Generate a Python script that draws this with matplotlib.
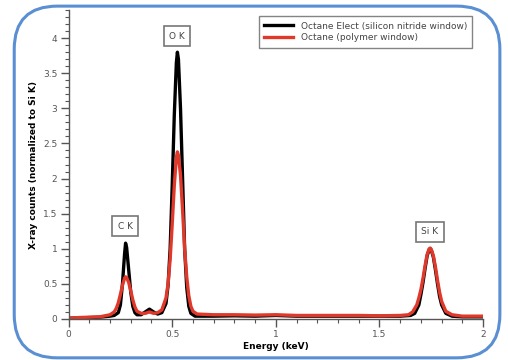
import matplotlib
matplotlib.use('Agg')
import matplotlib.pyplot as plt
from matplotlib.patches import FancyBboxPatch
from matplotlib.ticker import MultipleLocator, FuncFormatter

# spectra (energy in keV, counts normalized to Si K)
energy_black = [0.00, 0.05, 0.10, 0.15, 0.20, 0.22, 0.24, 0.25, 0.26, 0.27,
                0.275, 0.28, 0.29, 0.30, 0.31, 0.32, 0.33, 0.35, 0.37, 0.39,
                0.41, 0.43, 0.45, 0.47, 0.48, 0.49, 0.50, 0.51, 0.52, 0.525,
                0.53, 0.54, 0.55, 0.56, 0.57, 0.58, 0.59, 0.61, 0.70, 0.80,
                0.90, 1.00, 1.10, 1.20, 1.30, 1.40, 1.50, 1.60, 1.65, 1.67,
                1.69, 1.70, 1.71, 1.72, 1.73, 1.74, 1.745, 1.75, 1.76, 1.77,
                1.78, 1.79, 1.80, 1.82, 1.85, 1.90, 2.00]
counts_black = [0.01, 0.015, 0.02, 0.025, 0.04, 0.05, 0.09, 0.2, 0.5, 0.92,
                1.08, 1.02, 0.7, 0.38, 0.18, 0.09, 0.06, 0.06, 0.1, 0.14,
                0.1, 0.07, 0.09, 0.22, 0.48, 1.0, 1.9, 2.9, 3.65, 3.8,
                3.7, 3.0, 2.0, 1.0, 0.45, 0.18, 0.08, 0.04, 0.04, 0.045,
                0.04, 0.05, 0.04, 0.04, 0.04, 0.04, 0.04, 0.04, 0.05, 0.08,
                0.2, 0.35, 0.52, 0.72, 0.9, 0.99, 1.0, 0.98, 0.88, 0.7,
                0.5, 0.32, 0.2, 0.08, 0.04, 0.03, 0.03]

energy_red = [0.00, 0.05, 0.10, 0.15, 0.20, 0.22, 0.23, 0.24, 0.25, 0.26,
              0.27, 0.275, 0.28, 0.29, 0.30, 0.31, 0.32, 0.33, 0.35, 0.37,
              0.39, 0.41, 0.43, 0.45, 0.47, 0.48, 0.49, 0.50, 0.51, 0.52,
              0.525, 0.53, 0.54, 0.55, 0.56, 0.57, 0.58, 0.59, 0.60, 0.62,
              0.70, 0.80, 0.90, 1.00, 1.10, 1.20, 1.30, 1.40, 1.50, 1.60,
              1.64, 1.66, 1.68, 1.69, 1.70, 1.71, 1.72, 1.73, 1.74, 1.745,
              1.75, 1.76, 1.77, 1.78, 1.79, 1.80, 1.82, 1.85, 1.90, 2.00]
counts_red = [0.01, 0.02, 0.025, 0.03, 0.06, 0.1, 0.15, 0.23, 0.35, 0.48,
              0.58, 0.6, 0.59, 0.52, 0.4, 0.27, 0.17, 0.11, 0.08, 0.08,
              0.1, 0.08, 0.09, 0.13, 0.3, 0.5, 0.85, 1.35, 1.9, 2.3,
              2.38, 2.33, 2.05, 1.55, 1.0, 0.6, 0.33, 0.18, 0.11, 0.07,
              0.06, 0.06, 0.055, 0.06, 0.05, 0.05, 0.05, 0.05, 0.045, 0.05,
              0.06, 0.1, 0.2, 0.3, 0.42, 0.58, 0.76, 0.92, 1.0, 1.01,
              0.99, 0.9, 0.74, 0.55, 0.38, 0.25, 0.11, 0.06, 0.04, 0.04]

series_labels = ['Octane Elect (silicon nitride window)', 'Octane (polymer window)']

peak_names = ['C K', 'O K', 'Si K']
peak_pos = [(0.274, 1.32), (0.523, 4.03), (1.744, 1.24)]

fig = plt.figure(figsize=(5.08, 3.6), dpi=100)
ax = fig.add_axes([0.135, 0.114, 0.816, 0.858])

ax.plot(energy_black, counts_black, color='black', lw=2.4, label=series_labels[0])
ax.plot(energy_red, counts_red, color='#e0392b', lw=2.4, label=series_labels[1])

ax.set_xlim(0, 2)
ax.set_ylim(0, 4.4)

ax.xaxis.set_major_locator(MultipleLocator(0.5))
ax.xaxis.set_minor_locator(MultipleLocator(0.1))
ax.yaxis.set_major_locator(MultipleLocator(0.5))
ax.yaxis.set_minor_locator(MultipleLocator(0.1))
fmt = FuncFormatter(lambda v, p: ('%g' % v))
ax.xaxis.set_major_formatter(fmt)
ax.yaxis.set_major_formatter(fmt)

for s in ('top', 'right'):
    ax.spines[s].set_visible(False)
for s in ('left', 'bottom'):
    ax.spines[s].set_color('#555555')
    ax.spines[s].set_linewidth(1.0)

ax.tick_params(which='major', direction='out', length=6, width=1.0,
               colors='#555555', labelsize=6.5, labelcolor='#555555', pad=2)
ax.tick_params(which='minor', direction='out', length=3, width=0.8,
               colors='#555555')

ax.set_xlabel('Energy (keV)', fontsize=6.5, fontweight='bold', labelpad=2)
ax.set_ylabel('X-ray counts (normalized to Si K)', fontsize=6.5,
              fontweight='bold', labelpad=4)

for name, (px, py) in zip(peak_names, peak_pos):
    ax.text(px, py, name, ha='center', va='center', fontsize=6.5,
            color='#444444',
            bbox=dict(boxstyle='square,pad=0.6', fc='white',
                      ec='#777777', lw=1.2))

lgd = ax.legend(loc='upper right', bbox_to_anchor=(0.985, 0.995),
                fontsize=6.5, frameon=True, fancybox=False,
                handlelength=3.2, borderpad=0.6, labelspacing=0.3)
lgd.get_frame().set_edgecolor('#666666')
lgd.get_frame().set_linewidth(1.0)
for t in lgd.get_texts():
    t.set_color('#444444')

# rounded blue border around the whole chart
border = FancyBboxPatch((0.028, 0.006), 0.956, 0.977,
                        boxstyle='round,pad=0,rounding_size=0.085',
                        transform=fig.transFigure, fill=False,
                        ec='#5b8fd4', lw=2.2, mutation_aspect=508 / 360)
fig.patches.append(border)

plt.savefig('out.png', dpi=100)
